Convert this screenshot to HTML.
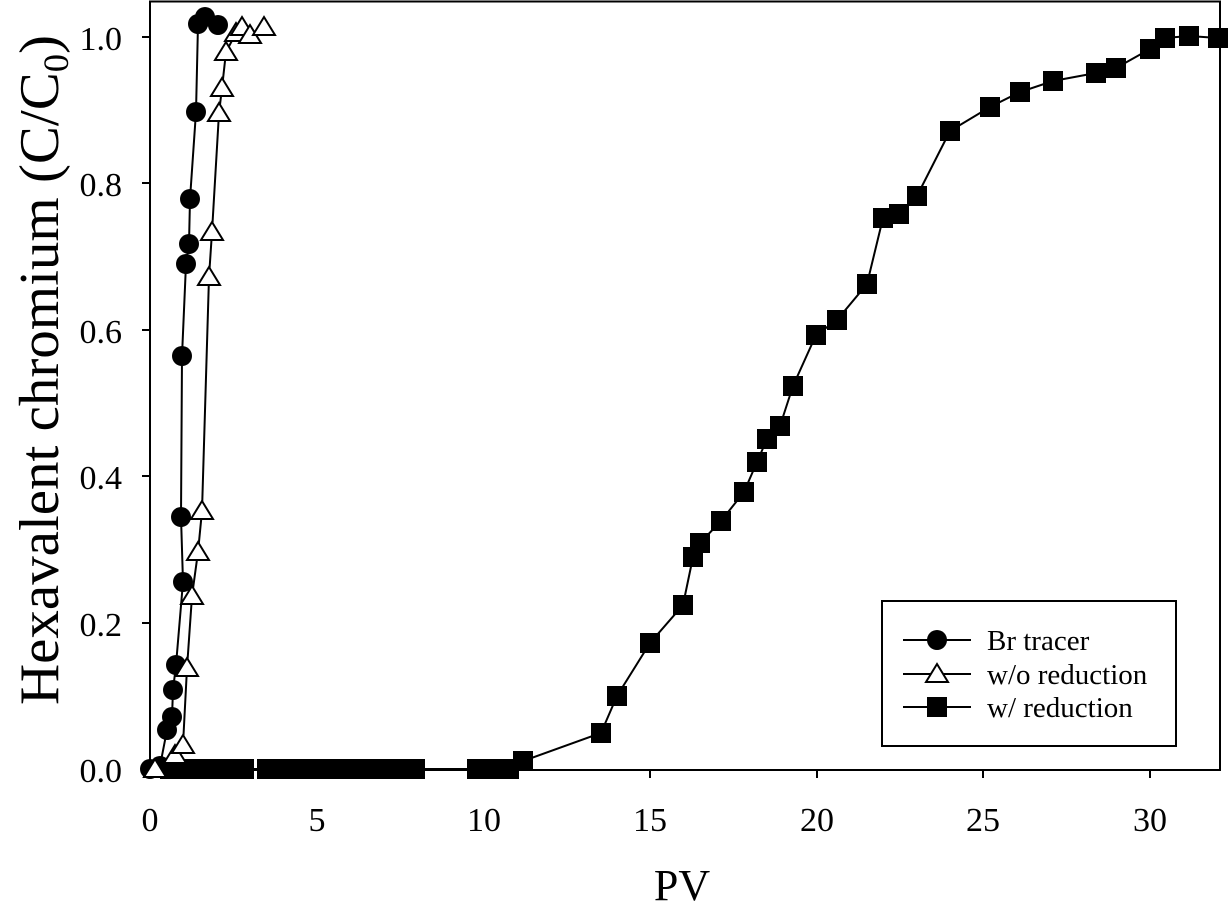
<!DOCTYPE html>
<html><head><meta charset="utf-8"><style>html,body{margin:0;padding:0;background:#fff}svg{display:block}</style></head>
<body>
<svg width="1228" height="911" viewBox="0 0 1228 911" xmlns="http://www.w3.org/2000/svg" font-family="Liberation Serif, serif">
<rect x="0" y="0" width="1228" height="911" fill="#fff"/>
<g stroke="#000" stroke-width="2" fill="none">
<rect x="150" y="1.5" width="1070" height="768.5"/>
</g>
<g stroke="#000" stroke-width="2">
<line x1="142" y1="769" x2="150" y2="769"/><line x1="142" y1="623" x2="150" y2="623"/>
<line x1="142" y1="476" x2="150" y2="476"/><line x1="142" y1="330" x2="150" y2="330"/>
<line x1="142" y1="183" x2="150" y2="183"/><line x1="142" y1="37" x2="150" y2="37"/>
<line x1="150" y1="770" x2="150" y2="778"/><line x1="317" y1="770" x2="317" y2="778"/>
<line x1="484" y1="770" x2="484" y2="778"/><line x1="650" y1="770" x2="650" y2="778"/>
<line x1="817" y1="770" x2="817" y2="778"/><line x1="983" y1="770" x2="983" y2="778"/>
<line x1="1150" y1="770" x2="1150" y2="778"/>
</g>
<g font-size="34" text-anchor="end" fill="#000">
<text x="122" y="782">0.0</text><text x="122" y="636">0.2</text><text x="122" y="489">0.4</text>
<text x="122" y="343">0.6</text><text x="122" y="196">0.8</text><text x="122" y="50">1.0</text>
</g>
<g font-size="34" text-anchor="middle" fill="#000">
<text x="150" y="831">0</text><text x="317" y="831">5</text><text x="484" y="831">10</text>
<text x="650" y="831">15</text><text x="817" y="831">20</text><text x="983" y="831">25</text><text x="1150" y="831">30</text>
</g>
<text x="682" y="900" font-size="44" text-anchor="middle">PV</text>
<text transform="translate(58,370) rotate(-90)" font-size="56" text-anchor="middle" textLength="670" lengthAdjust="spacingAndGlyphs">Hexavalent chromium (C/C<tspan font-size="36" dy="10">0</tspan><tspan dy="-10">)</tspan></text>

<!-- w/ reduction -->
<polyline fill="none" stroke="#000" stroke-width="2" points="150,769 420,769 474,769 510,769 523,761 601,733 617,696 650,643 683,605 693,557 700,543 721,521 744,492 757,462 767,439 780,426 793,386 816,335 837,320 867,284 883,218 899,214 917,196 950,131 990,107 1020,92 1053,81 1096,73 1116,68 1150,49 1165,38 1189,36 1218,38"/>
<g fill="#000">
<rect x="160" y="759" width="94" height="20"/>
<rect x="257" y="759" width="168" height="20"/>
<rect x="467" y="759" width="52" height="20"/>
<rect x="513" y="751" width="20" height="20"/><rect x="591" y="723" width="20" height="20"/><rect x="607" y="686" width="20" height="20"/><rect x="640" y="633" width="20" height="20"/><rect x="673" y="595" width="20" height="20"/><rect x="683" y="547" width="20" height="20"/><rect x="690" y="533" width="20" height="20"/><rect x="711" y="511" width="20" height="20"/><rect x="734" y="482" width="20" height="20"/><rect x="747" y="452" width="20" height="20"/><rect x="757" y="429" width="20" height="20"/><rect x="770" y="416" width="20" height="20"/><rect x="783" y="376" width="20" height="20"/><rect x="806" y="325" width="20" height="20"/><rect x="827" y="310" width="20" height="20"/><rect x="857" y="274" width="20" height="20"/><rect x="873" y="208" width="20" height="20"/><rect x="889" y="204" width="20" height="20"/><rect x="907" y="186" width="20" height="20"/><rect x="940" y="121" width="20" height="20"/><rect x="980" y="97" width="20" height="20"/><rect x="1010" y="82" width="20" height="20"/><rect x="1043" y="71" width="20" height="20"/><rect x="1086" y="63" width="20" height="20"/><rect x="1106" y="58" width="20" height="20"/><rect x="1140" y="39" width="20" height="20"/><rect x="1155" y="28" width="20" height="20"/><rect x="1179" y="26" width="20" height="20"/><rect x="1208" y="28" width="20" height="20"/>
</g>

<!-- Br tracer -->
<polyline fill="none" stroke="#000" stroke-width="2" points="150,769 160,766 167,730 172,717 173,690 176,665 183,582 181,517 182,356 186,264 189,244 190,199 196,112 198,24 205,17 218,25"/>
<g fill="#000">
<circle cx="150" cy="769" r="10"/><circle cx="160" cy="766" r="10"/><circle cx="167" cy="730" r="10"/><circle cx="172" cy="717" r="10"/><circle cx="173" cy="690" r="10"/><circle cx="176" cy="665" r="10"/><circle cx="183" cy="582" r="10"/><circle cx="181" cy="517" r="10"/><circle cx="182" cy="356" r="10"/><circle cx="186" cy="264" r="10"/><circle cx="189" cy="244" r="10"/><circle cx="190" cy="199" r="10"/><circle cx="196" cy="112" r="10"/><circle cx="198" cy="24" r="10"/><circle cx="205" cy="17" r="10"/><circle cx="218" cy="25" r="10"/>
</g>

<!-- w/o reduction -->
<polyline fill="none" stroke="#000" stroke-width="2" points="155,769 175,755 183,745 187,668 192,596 198,552 202,511 209,277 212,232 219,113 222,88 226,52 236,33 242,27 250,35 264,27"/>
<g fill="#fff" stroke="#000" stroke-width="2">
<polygon points="155,759 166,777 144,777"/><polygon points="175,745 186,763 164,763"/><polygon points="183,735 194,753 172,753"/><polygon points="187,658 198,676 176,676"/><polygon points="192,586 203,604 181,604"/><polygon points="198,542 209,560 187,560"/><polygon points="202,501 213,519 191,519"/><polygon points="209,267 220,285 198,285"/><polygon points="212,222 223,240 201,240"/><polygon points="219,103 230,121 208,121"/><polygon points="222,78 233,96 211,96"/><polygon points="226,42 237,60 215,60"/><polygon points="236,23 247,41 225,41"/><polygon points="242,17 253,35 231,35"/><polygon points="250,25 261,43 239,43"/><polygon points="264,17 275,35 253,35"/>
</g>

<!-- legend -->
<rect x="882" y="601" width="294" height="145" fill="#fff" stroke="#000" stroke-width="2"/>
<g stroke="#000" stroke-width="2">
<line x1="903" y1="640" x2="971" y2="640"/><line x1="903" y1="674" x2="971" y2="674"/><line x1="903" y1="707" x2="971" y2="707"/>
</g>
<circle cx="937" cy="640" r="10" fill="#000"/>
<polygon points="937,664 948,682 926,682" fill="#fff" stroke="#000" stroke-width="2"/>
<rect x="927" y="697" width="20" height="20" fill="#000"/>
<g font-size="29" fill="#000">
<text x="987" y="650">Br tracer</text><text x="987" y="684">w/o reduction</text><text x="987" y="717">w/ reduction</text>
</g>
</svg>
</body></html>
